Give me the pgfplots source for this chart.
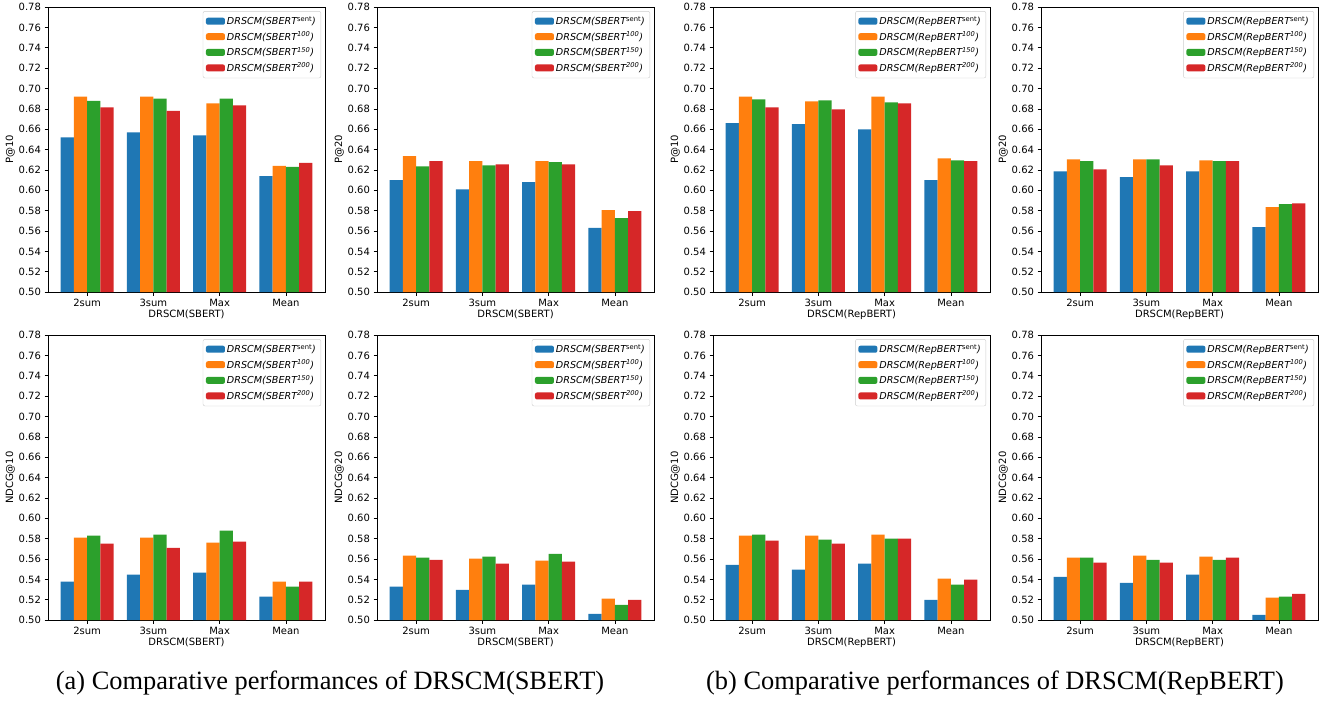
\documentclass[border=0pt]{standalone}
\usepackage{fontspec}
\setmainfont{DejaVu Sans}
\newfontfamily\capfont{Liberation Serif}
\usepackage{pgfplots}
\pgfplotsset{compat=1.18}
\usepackage{pgfplotstable}
\definecolor{c0}{HTML}{1F77B4}
\definecolor{c1}{HTML}{FF7F0E}
\definecolor{c2}{HTML}{2CA02C}
\definecolor{c3}{HTML}{D62728}

% P@10 SBERT
\pgfplotstableread{
x s a b c
0 0.652 0.692 0.688 0.6815
1 0.657 0.692 0.690 0.678
2 0.654 0.6855 0.690 0.6835
3 0.614 0.624 0.623 0.627
}\tA
% P@20 SBERT
\pgfplotstableread{
x s a b c
0 0.610 0.6335 0.6236 0.6286
1 0.601 0.6286 0.6246 0.6256
2 0.608 0.6286 0.6276 0.6256
3 0.563 0.5805 0.5726 0.5795
}\tB
% P@10 RepBERT
\pgfplotstableread{
x s a b c
0 0.666 0.692 0.6894 0.6815
1 0.665 0.6874 0.6884 0.6796
2 0.660 0.692 0.6865 0.6855
3 0.610 0.6315 0.6295 0.6286
}\tC
% P@20 RepBERT
\pgfplotstableread{
x s a b c
0 0.6187 0.6305 0.6286 0.6207
1 0.6129 0.6305 0.6305 0.6246
2 0.6187 0.6295 0.6286 0.6286
3 0.5638 0.5834 0.5864 0.5873
}\tD
% NDCG@10 SBERT
\pgfplotstableread{
x s a b c
0 0.5377 0.581 0.583 0.5751
1 0.5446 0.581 0.5839 0.5711
2 0.5466 0.5761 0.5879 0.577
3 0.523 0.5377 0.5328 0.5377
}\tE
% NDCG@20 SBERT
\pgfplotstableread{
x s a b c
0 0.5328 0.5633 0.5613 0.5593
1 0.5298 0.5603 0.5623 0.5554
2 0.5348 0.5584 0.5652 0.5574
3 0.5062 0.521 0.5151 0.520
}\tF
% NDCG@10 RepBERT
\pgfplotstableread{
x s a b c
0 0.5544 0.583 0.5839 0.578
1 0.5495 0.583 0.579 0.5751
2 0.5554 0.5839 0.580 0.580
3 0.520 0.5407 0.5348 0.5397
}\tG
% NDCG@20 RepBERT
\pgfplotstableread{
x s a b c
0 0.5426 0.5613 0.5613 0.5564
1 0.5367 0.5633 0.5593 0.5564
2 0.5446 0.5623 0.5593 0.5613
3 0.5052 0.522 0.523 0.5259
}\tH

\pgfplotsset{
  panel/.style={
    width=277pt, height=285pt, scale only axis,
    anchor=north west,
    ybar, bar width=0.2,
    ymin=0.5, ymax=0.78, xmin=-0.59, xmax=3.59,
    xtick={0,1,2,3}, xticklabels={2sum,3sum,Max,Mean},
    ytick={0.5,0.52,0.54,0.56,0.58,0.6,0.62,0.64,0.66,0.68,0.7,0.72,0.74,0.76,0.78},
    yticklabel style={/pgf/number format/.cd, fixed, fixed zerofill, precision=2, assume math mode=true},
    tick align=outside, xtick pos=bottom, ytick pos=left,
    major tick length=3.5pt,
    tick style={black, line width=0.8pt},
    axis line style={line width=0.8pt},
    ticklabel style={font=\fontsize{10}{12}\selectfont},
    label style={font=\fontsize{10}{12}\selectfont},
    xlabel shift=-4pt, ylabel shift=-3pt,
    legend cell align=left,
    legend style={at={(0.986,0.986)}, anchor=north east, draw=black!20, rounded corners=2pt,
      font=\fontsize{9.6}{10}\selectfont\itshape, row sep=1.5pt, inner sep=3pt},
    legend image code/.code={\fill[##1] (0pt,-3.5pt) rectangle (19pt,3.5pt);},
  },
  s0/.style={fill=c0, draw=none, bar shift=-0.3},
  s1/.style={fill=c1, draw=none, bar shift=-0.1},
  s2/.style={fill=c2, draw=none, bar shift=0.1},
  s3/.style={fill=c3, draw=none, bar shift=0.3},
}

\newcommand{\panel}[5]{%
\begin{axis}[panel, at={(#4)}, ylabel={#2}, xlabel={DRSCM(#3)}]
\addplot[s0] table[x=x,y=s]{#1};
\addplot[s1] table[x=x,y=a]{#1};
\addplot[s2] table[x=x,y=b]{#1};
\addplot[s3] table[x=x,y=c]{#1};
\legend{DRSCM(#3\textsuperscript{\upshape sent}),DRSCM(#3\textsuperscript{100}),DRSCM(#3\textsuperscript{150}),DRSCM(#3\textsuperscript{200})}
\end{axis}}

\begin{document}
\begin{tikzpicture}
\path (0pt,0pt) rectangle (1328pt,-698pt);
\panel{\tA}{P@10}{SBERT}{48pt,-5pt}{}
\panel{\tB}{P@20}{SBERT}{377pt,-5pt}{}
\panel{\tC}{P@10}{RepBERT}{713pt,-5pt}{}
\panel{\tD}{P@20}{RepBERT}{1041pt,-5pt}{}
\panel{\tE}{NDCG@10}{SBERT}{48pt,-333pt}{}
\panel{\tF}{NDCG@20}{SBERT}{377pt,-333pt}{}
\panel{\tG}{NDCG@10}{RepBERT}{713pt,-333pt}{}
\panel{\tH}{NDCG@20}{RepBERT}{1041pt,-333pt}{}
\node[font=\capfont\fontsize{26.4}{30}\selectfont] at (330pt,-681pt) {(a) Comparative performances of DRSCM(SBERT)};
\node[font=\capfont\fontsize{26.4}{30}\selectfont] at (995pt,-681pt) {(b) Comparative performances of DRSCM(RepBERT)};
\end{tikzpicture}
\end{document}
